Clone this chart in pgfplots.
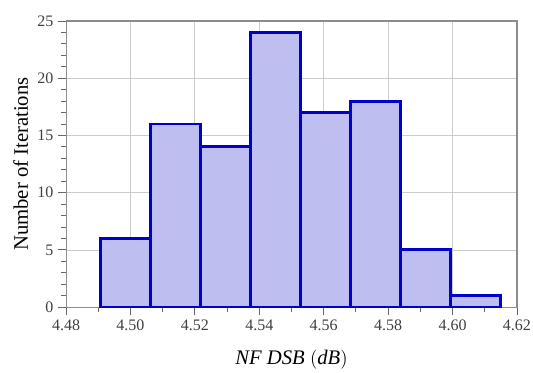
\documentclass[border=0pt]{standalone}
\usepackage{pgfplots}
\pgfplotsset{compat=1.18}
\usetikzlibrary{calc}
\usepackage{fontspec}
\setmainfont{Liberation Serif}
\definecolor{barfill}{RGB}{190,190,240}
\definecolor{baredge}{RGB}{0,0,205}
\begin{document}
\begin{tikzpicture}
\begin{axis}[
  name=ax,
  scale only axis,
  width=338pt, height=214.5pt,
  xmin=4.48, xmax=4.62, ymin=0, ymax=25,
  xtick={4.48,4.50,...,4.621},
  ytick={0,5,...,25},
  minor x tick num=1,
  minor y tick num=4,
  tick align=outside,
  tick pos=left,
  major tick length=6pt,
  minor tick length=3.5pt,
  grid=major,
  major grid style={draw=black!20, line width=0.6pt},
  axis line style={draw=black!45, line width=0.8pt},
  every tick/.style={black!60, line width=0.7pt},
  /pgf/number format/assume math mode=true,
  xticklabel style={/pgf/number format/.cd, fixed, fixed zerofill, precision=2},
  ticklabel style={font=\fontsize{12}{13}\selectfont, text=black!75},
  xlabel={$\mathit{NF}\ \mathit{DSB}\ (\mathit{dB})$},
  ylabel={Number of Iterations},
  label style={font=\fontsize{15.5}{17}\selectfont},
  xlabel style={at={(rel axis cs:0.5,0)}, anchor=center, yshift=-39pt},
  ylabel style={at={(rel axis cs:0,0.5)}, anchor=center, yshift=34pt},
]
\addplot[ybar interval, fill=barfill, draw=baredge, line width=2.2pt] coordinates {
  (4.4906,6) (4.5061,16) (4.5216,14) (4.5372,24) (4.5527,17)
  (4.5682,18) (4.5837,5) (4.5993,1) (4.6148,1)
};
\end{axis}
\pgfresetboundingbox
\path[use as bounding box] ($(ax.south west)+(-49.5pt,-48.75pt)$) rectangle ($(ax.north east)+(12pt,15.75pt)$);
\end{tikzpicture}
\end{document}
